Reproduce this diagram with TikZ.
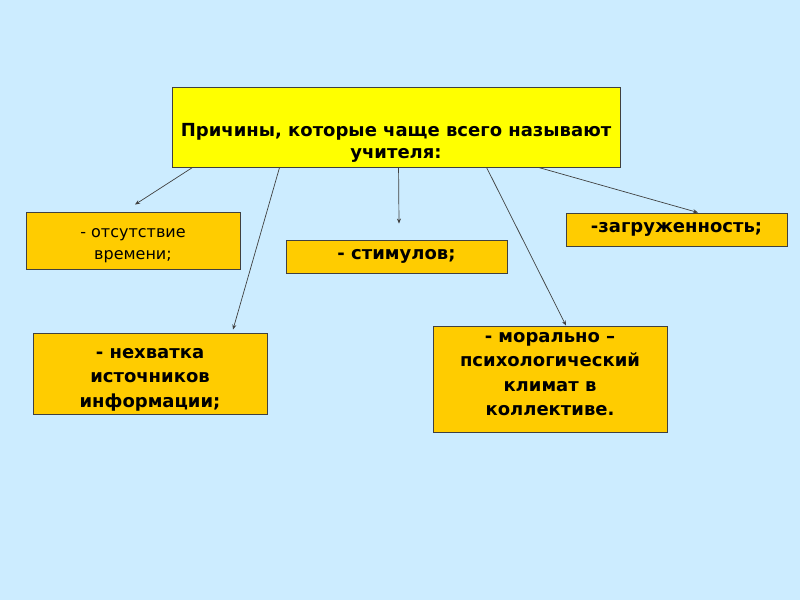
\documentclass[tikz,border=0pt]{standalone}
\usepackage{fontspec}
\setmainfont{DejaVu Sans}
\usepackage{tikz}
\usetikzlibrary{arrows.meta, positioning, calc}
\definecolor{slidebg}{HTML}{CCECFF}
\definecolor{headfill}{HTML}{FFFF00}
\definecolor{reasonfill}{HTML}{FFCC00}
\definecolor{edge}{HTML}{404040}

\begin{document}
\begin{tikzpicture}[
  x=1pt, y=1pt,
  box/.style    = {rectangle, draw=edge, line width=0.9pt, fill=reasonfill, inner sep=2pt,
                   align=center, font=\fontsize{18}{24.5}\selectfont\bfseries},
  head/.style   = {box, fill=headfill, font=\fontsize{18}{22}\selectfont\bfseries},
  plain/.style  = {box, font=\fontsize{16}{22}\selectfont},
  arrow/.style  = {-{Stealth[length=5pt, width=4pt]}, line width=0.7pt, color=edge},
]
  \fill[slidebg] (0,0) rectangle (800,600);
  \useasboundingbox (0,0) rectangle (800,600);

  \node[head, minimum width=448pt, minimum height=80pt] (causes) at (396,473)
    {\mbox{}\\[22pt]Причины, которые чаще всего называют\\учителя:};

  \node[plain, minimum width=214pt, minimum height=57pt] (time)     at (133,359.5)
    {\mbox{}\\[-3pt]- отсутствие\\времени;};
  \node[box,   minimum width=221pt, minimum height=33pt] (stimuli)  at (396.5,343.5) {- стимулов;};
  \node[box,   minimum width=221pt, minimum height=33pt] (workload) at (676.5,370.5) {-загруженность;};
  \node[box,   minimum width=234pt, minimum height=81pt] (sources)  at (150,226.5)
    {\mbox{}\\[-2pt]- нехватка\\источников\\информации;};
  \node[box,   minimum width=234pt, minimum height=106pt] (climate) at (550,221)
    {- морально –\\психологический\\климат в\\коллективе.\\[-14pt]\mbox{}};

  \draw[arrow] ($(causes.south west)+(21,0)$)  -- ($(time.north)+(2,7)$);
  \draw[arrow] ($(causes.south west)+(108,0)$) -- ($(sources.north)+(83,3)$);
  \draw[arrow] ($(causes.south west)+(227,0)$) -- ($(stimuli.north)+(2.5,16)$);
  \draw[arrow] ($(causes.south west)+(315,0)$) -- ($(climate.north)+(16,0)$);
  \draw[arrow] ($(causes.south west)+(367,0)$) -- ($(workload.north)+(21.5,0)$);
\end{tikzpicture}
\end{document}
